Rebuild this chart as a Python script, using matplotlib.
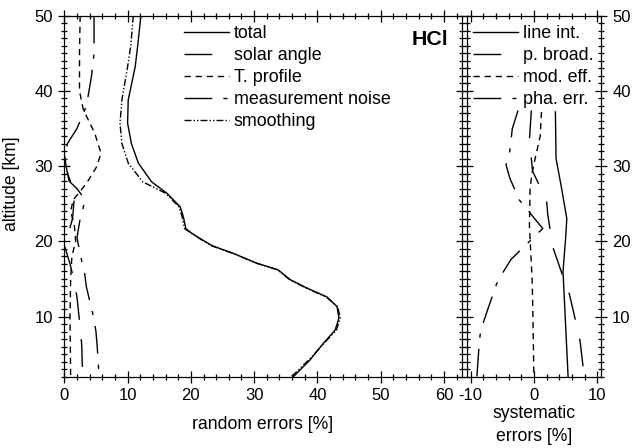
import matplotlib
matplotlib.use('Agg')
import matplotlib.pyplot as plt
from matplotlib.ticker import MultipleLocator

plt.rcParams['font.family'] = ['Liberation Sans', 'DejaVu Sans']
plt.rcParams['axes.unicode_minus'] = False

# %% random errors (left panel), altitude in km, error in %
total_alt = [50, 46, 43.2, 38.8, 35.7, 33, 30.4, 27.9, 26.4, 24.6, 23.3, 21.7, 21.1, 20.4,
             19.4, 18.4, 17.1, 16.2, 14.9, 13.8, 12.6, 11.3, 9.8, 8.2, 6.4, 4.2, 2]
total = [12.1, 11.6, 11.2, 10.1, 10.0, 10.6, 11.7, 13.8, 16.2, 18.3, 18.8, 19.2, 20.1, 21.4,
         23.4, 26.7, 30.4, 33.8, 35.7, 38.3, 41.5, 43.1, 43.4, 42.8, 40.9, 38.8, 36.2]
smoothing = [10.9, 10.5, 10.0, 9.1, 8.8, 9.1, 10.1, 12.4, 16.0, 18.1, 18.6, 19.0, 20.0, 21.3,
             23.3, 26.6, 30.3, 33.7, 35.6, 38.2, 41.4, 43.2, 43.6, 43.0, 41.0, 38.6, 35.9]

solar_alt = [31.5, 29, 27.5, 26, 23, 21, 19.5, 17, 15.3, 12.6, 8.6, 6.2, 2]
solar = [0.0, 0.5, 1.2, 1.6, 1.3, 0.6, 0.0, 0.9, 1.4, 2.0, 2.5, 2.75, 2.9]

tprof_alt = [50, 45, 40, 37.5, 34.4, 31.7, 29.9, 27.7, 25.5, 24, 22, 20, 18, 15, 10, 2]
tprof = [2.5, 2.4, 2.4, 3.0, 4.8, 5.8, 5.1, 3.5, 1.4, 1.0, 1.6, 1.8, 1.2, 1.0, 0.9, 1.0]

noise_alt = [50, 45, 42, 38, 35, 33, 31, 28, 27, 25.5, 23, 20.5, 18.3, 15.8, 13.9, 10, 8, 6, 2]
noise = [4.7, 4.7, 4.3, 3.5, 2.0, 0.5, 0.1, 0.75, 2.0, 3.3, 2.5, 2.0, 2.5, 3.2, 3.5, 4.6, 5.0, 5.2, 5.5]

# %% systematic errors (right panel)
lineint_alt = [37.2, 31, 27.4, 23, 20.3, 16, 2]
lineint = [3.4, 3.5, 4.3, 5.2, 5.0, 4.6, 5.4]

pbroad_alt = [37.4, 33.5, 29.3, 25.5, 23.5, 19.2, 15.3, 13, 9, 6.7, 2]
pbroad = [-0.4, -0.7, -0.2, 2.0, 2.2, 3.0, 4.6, 5.6, 6.7, 7.3, 7.95]

modeff_alt = [37.2, 34, 31, 29, 27, 22, 17, 14.3, 10, 2]
modeff = [1.2, 1.0, 0.2, -0.3, -0.6, -0.7, -0.4, -0.25, -0.15, 0.0]

phaerr_alt = [37.4, 35, 32, 30.2, 28.4, 25.5, 21.7, 17.6, 15.7, 14.3, 10.4, 8.1, 6.7, 2]
phaerr = [-2.5, -3.4, -3.8, -4.4, -3.8, -2.3, 1.4, -3.6, -5.0, -5.9, -7.5, -8.4, -8.6, -9.0]

# %% line styles
SOLID = '-'
LONG = (0, (20, 14))
SHORT = (0, (4.5, 3.5))
LONGSHORT = (0, (20, 8, 3, 8))
DASHDOTDOT = (0, (5, 1.5, 1, 1.5, 1, 1.5))

fig = plt.figure(figsize=(6.33, 4.48), dpi=100)
ax1 = fig.add_axes([0.1016, 0.1592, 0.6278, 0.8058])
ax2 = fig.add_axes([0.7373, 0.1592, 0.2122, 0.8058])

kw = dict(color='black', lw=1.0)
ax1.plot(total, total_alt, ls=SOLID, label='total', **kw)
ax1.plot(solar, solar_alt, ls=LONG, label='solar angle', **kw)
ax1.plot(tprof, tprof_alt, ls=SHORT, label='T. profile', **kw)
ax1.plot(noise, noise_alt, ls=LONGSHORT, label='measurement noise', **kw)
ax1.plot(smoothing, total_alt, ls=DASHDOTDOT, label='smoothing', **kw)

ax2.plot(lineint, lineint_alt, ls=SOLID, label='line int.', **kw)
ax2.plot(pbroad, pbroad_alt, ls=LONG, label='p. broad.', **kw)
ax2.plot(modeff, modeff_alt, ls=SHORT, label='mod. eff.', **kw)
ax2.plot(phaerr, phaerr_alt, ls=LONGSHORT, label='pha. err.', **kw)

ax1.set_xlim(0, 62.8)
ax2.set_xlim(-10.6, 10.6)
for ax in (ax1, ax2):
    ax.set_ylim(2, 50)
    ax.yaxis.set_major_locator(MultipleLocator(10))
    ax.yaxis.set_minor_locator(MultipleLocator(1))
    ax.xaxis.set_major_locator(MultipleLocator(10))
    ax.xaxis.set_minor_locator(MultipleLocator(2))
    ax.tick_params(which='both', direction='inout', top=True, bottom=True, left=True, right=True,
                   labelsize=12, width=0.9, pad=4)
    ax.tick_params(which='major', length=8)
    ax.tick_params(which='minor', length=4.5)
    for s in ax.spines.values():
        s.set_linewidth(0.9)

ax1.tick_params(labelleft=True, labelright=False)
ax2.tick_params(labelleft=False, labelright=True)

leg_kw = dict(frameon=False, fontsize=12.9, handlelength=2.5, handletextpad=0.28,
              labelspacing=0.28, borderpad=0, borderaxespad=0, loc='upper left')
ax1.legend(bbox_to_anchor=(0.301, 0.974), **leg_kw)
ax2.legend(bbox_to_anchor=(0.047, 0.974), **leg_kw)

ax1.text(0.9655, 0.933, 'HCl', transform=ax1.transAxes, ha='right', va='center',
         fontsize=15.4, fontweight='bold')

fig.text(263 / 633, 1 - 424 / 448, 'random errors [%]', ha='center', va='center', fontsize=12.7)
fig.text(534 / 633, 1 - 425 / 448, 'systematic\nerrors [%]', ha='center', va='center',
         fontsize=12.7, linespacing=1.4)
fig.text(12 / 633, 1 - 184 / 448, 'altitude [km]', ha='center', va='center', rotation=90, fontsize=12.7)

fig.savefig('out.png', dpi=100)
